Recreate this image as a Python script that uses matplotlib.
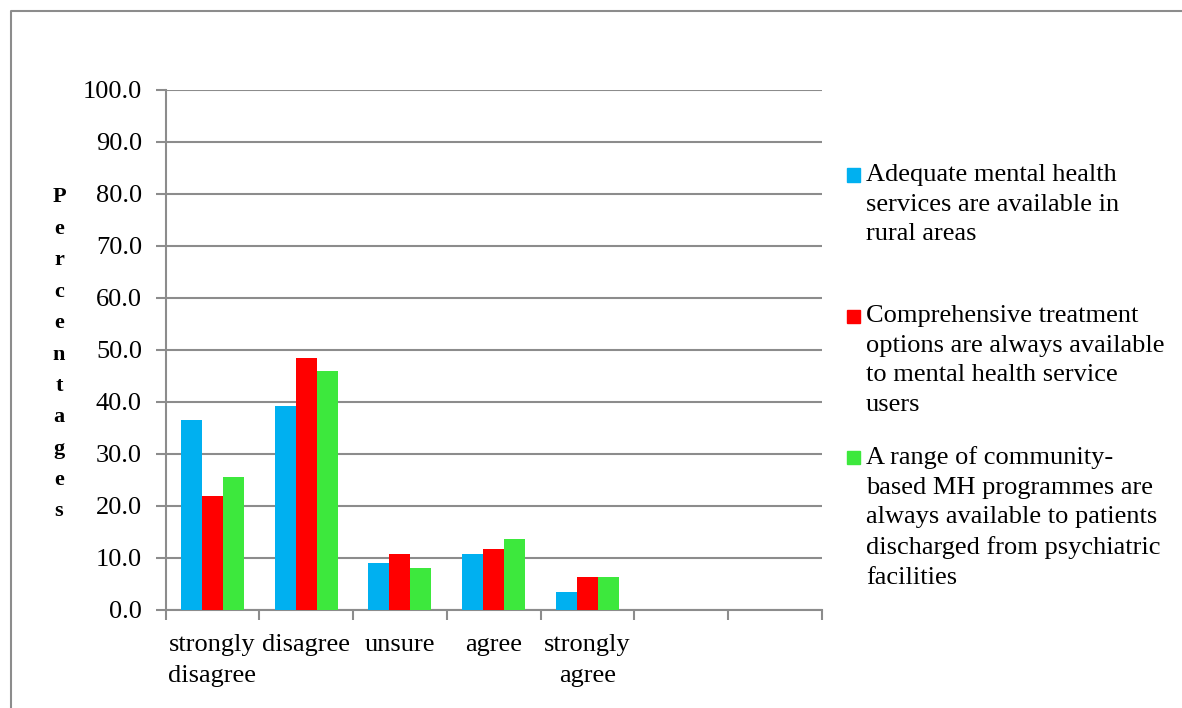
import matplotlib
matplotlib.use("Agg")
import matplotlib.pyplot as plt
import numpy as np
from matplotlib.lines import Line2D
from matplotlib.patches import Rectangle

# ---- data ----
categories = ["strongly\ndisagree", "disagree", "unsure", "agree", "strongly\nagree", "", ""]
series_labels = [
    "Adequate mental health\nservices are available in\nrural areas",
    "Comprehensive treatment\noptions are always available\nto mental health service\nusers",
    "A range of community-\nbased MH programmes are\nalways available to patients\ndischarged from psychiatric\nfacilities",
]
rural = [36.5, 39.2, 9.0, 10.8, 3.5]
treatment = [21.9, 48.5, 10.8, 11.7, 6.3]
community = [25.6, 46.0, 8.1, 13.7, 6.3]
yticks = [0, 10, 20, 30, 40, 50, 60, 70, 80, 90, 100]
ylabel = "Percentages"

colors = ["#00B0F0", "#FF0000", "#3DE83D"]
W, H = 1182, 708
GRID = "#8C8C8C"
FS = 19

plt.rcParams["font.family"] = ["Liberation Serif", "DejaVu Serif"]

fig = plt.figure(figsize=(W / 100, H / 100), dpi=100)

# outer chart border (top and left visible)
fig.add_artist(Line2D([10.5 / W, 10.5 / W, 1.0], [0.0, 1 - 10.5 / H, 1 - 10.5 / H],
                      color=GRID, lw=1.5, transform=fig.transFigure))

left, right, top, bottom = 165.5, 822, 89.5, 610
ax = fig.add_axes([left / W, 1 - bottom / H, (right - left) / W, (bottom - top) / H])

n = len(categories)
centers = np.arange(n) + 0.5
w = 0.224
all_series = [rural, treatment, community]
for i, (vals, col) in enumerate(zip(all_series, colors)):
    xs = centers[:len(vals)] + (i - 1) * w
    ax.bar(xs, vals, width=w, color=col, edgecolor="none", zorder=3)

ax.set_xlim(0, n)
ax.set_ylim(0, 100)
ax.set_yticks(yticks)
ax.set_yticklabels([f"{v:.1f}" for v in yticks])
ax.yaxis.grid(True, color=GRID, lw=1.5, zorder=0)
ax.set_axisbelow(True)

ax.set_xticks(np.arange(n + 1))
ax.set_xticklabels([])
ax.set_xticks(centers, minor=True)
ax.set_xticklabels(categories, minor=True, linespacing=1.55)

for s in ["top", "right"]:
    ax.spines[s].set_visible(False)
for s in ["left", "bottom"]:
    ax.spines[s].set_color(GRID)
    ax.spines[s].set_linewidth(1.5)

ax.tick_params(axis="y", which="major", length=7, width=1.5, color=GRID, labelsize=FS, pad=10)
ax.tick_params(axis="x", which="major", length=7, width=1.5, color=GRID)
ax.tick_params(axis="x", which="minor", length=0, labelsize=FS, pad=17)

ax.set_ylabel("\n".join(ylabel), rotation=0, fontweight="bold", fontsize=16,
              linespacing=1.76, va="center", ha="center")
ax.yaxis.set_label_coords((59 - left) / (right - left), (bottom - 354.5) / (bottom - top))

# legend (manual placement)
entry_y = [175, 316, 457]
for lab, col, yy in zip(series_labels, colors, entry_y):
    fig.add_artist(Rectangle((847 / W, 1 - (yy + 6.5) / H), 13 / W, 13 / H,
                             transform=fig.transFigure, color=col))
    fig.text(866 / W, 1 - (yy - 11) / H, lab, fontsize=FS, va="top", ha="left",
             linespacing=1.45)

fig.savefig("out.png", dpi=100)
